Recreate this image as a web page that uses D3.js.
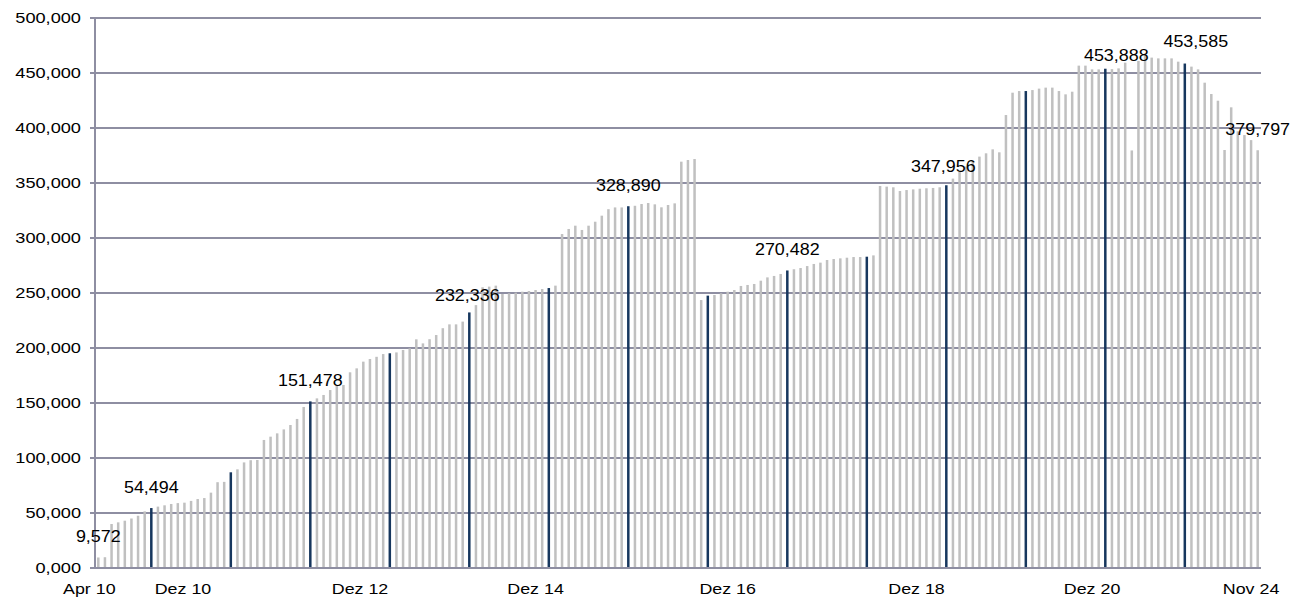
<!DOCTYPE html>
<html>
<head>
<meta charset="utf-8">
<script src="https://cdn.jsdelivr.net/npm/d3@7"></script>
<style>
  html, body { margin: 0; padding: 0; background: #ffffff; }
  svg { display: block; }
  text { font-family: "Liberation Sans", Arial, sans-serif; fill: #000; }
</style>
</head>
<body>
<div id="chart"></div>
<script>
// ---------------- DATA ----------------
const monthNames = ["Jan","Feb","Mär","Apr","Mai","Jun","Jul","Aug","Sep","Okt","Nov","Dez"];
const startMonth = 3;   // April
const startYear = 10;   // 2010
const monthCount = 176; // Apr 10 .. Nov 24

// monthly values in thousands
const values = [
  9.572, 9.8, 40.0, 41.5, 43.0, 45.0, 47.5, 51.5, 54.494, 55.8,
  57.0, 58.2, 59.0, 59.4, 61.0, 62.7, 63.6, 68.5, 78.0, 78.3,
  87.0, 89.7, 96.0, 98.0, 98.2, 116.4, 119.4, 122.4, 126.0, 130.0,
  135.5, 146.4, 151.478, 154.2, 157.3, 161.8, 165.8, 166.4, 177.9, 181.5,
  187.6, 190.0, 192.0, 194.5, 195.2, 196.0, 198.2, 199.7, 207.9, 204.2,
  208.0, 211.8, 218.0, 221.5, 221.5, 224.0, 232.336, 239.0, 255.2, 255.8,
  256.7, 249.1, 249.7, 250.3, 251.2, 251.8, 252.7, 253.6, 254.5, 256.7,
  303.6, 308.2, 311.2, 307.3, 311.2, 314.8, 320.3, 326.2, 327.8, 327.8,
  328.890, 329.3, 330.9, 331.8, 330.6, 327.9, 330.0, 331.5, 369.4, 370.9,
  371.8, 243.6, 247.6, 248.2, 249.7, 251.2, 252.7, 256.4, 257.3, 258.2,
  261.2, 264.2, 265.5, 267.3, 270.482, 271.6, 272.7, 274.5, 276.4, 277.6,
  280.0, 280.9, 281.5, 282.1, 282.7, 282.7, 283.0, 284.2, 347.3, 346.7,
  346.1, 342.7, 343.6, 344.2, 344.8, 345.2, 345.5, 346.1, 347.956, 354.0,
  360.0, 365.0, 370.0, 374.0, 377.0, 380.6, 377.9, 411.8, 432.1, 433.6,
  433.6, 434.5, 435.8, 436.7, 436.7, 433.6, 430.6, 433.0, 456.7, 456.7,
  453.3, 453.3, 453.888, 453.5, 454.2, 459.4, 379.6, 461.0, 465.8, 464.0,
  463.3, 463.3, 463.3, 460.3, 458.6, 455.8, 453.3, 441.2, 430.9, 424.8,
  380.0, 418.8, 397.0, 393.6, 389.0, 379.797
];

// labelled bars and their label values
const labelMonths = ["Apr 10","Dez 10","Dez 12","Dez 14","Dez 16","Dez 18","Dez 20","Dez 22","Dez 23","Nov 24"];
const labelValues = [9572, 54494, 151478, 232336, 328890, 270482, 347956, 453888, 453585, 379797];

// axis tick labels
const yTicks = [0, 50, 100, 150, 200, 250, 300, 350, 400, 450, 500];
const yTickLabels = ["0,000","50,000","100,000","150,000","200,000","250,000","300,000","350,000","400,000","450,000","500,000"];
const xTickLabels = ["Apr 10","Dez 10","Dez 12","Dez 14","Dez 16","Dez 18","Dez 20","Nov 24"];

// categories (month names)
const categories = d3.range(monthCount).map(k => {
  const m = (startMonth + k) % 12;
  const y = startYear + Math.floor((startMonth + k) / 12);
  return monthNames[m] + " " + String(y).padStart(2, "0");
});
const data = categories.map((c, i) => ({ cat: c, value: values[i] }));

// ---------------- LAYOUT ----------------
const W = 1290, H = 598;
const plot = { left: 95, right: 1261, top: 18, bottom: 568 };
const barW = 2.5;
const gridColor = "#8e8ea2";
const grayBar = "#c0c0c0";
const darkBar = "#17375e";

// label placement in month units along the axis (layout of free text)
const xTickPos = [-0.86, 13.28, 40.0, 66.5, 95.5, 124.0, 150.5, 174.5];
// small manual nudges for value labels [dx, dy]
const labelNudge = { "Dez 14": [-2, 4], "Dez 20": [-3, 2], "Dez 22": [11, 7], "Dez 23": [11, -2] };

const svg = d3.select("#chart").append("svg")
  .attr("width", W).attr("height", H)
  .style("background", "#fff");

const step = (plot.right - plot.left) / monthCount;
const pin = 1 - barW / step;
const x = d3.scaleBand()
  .domain(categories)
  .range([plot.left, plot.right])
  .paddingInner(pin)
  .paddingOuter(pin / 2);
const xl = d3.scaleLinear().domain([0, monthCount]).range([plot.left, plot.right]);
const y = d3.scaleLinear().domain([0, 500]).range([plot.bottom, plot.top]);

function stretchedText(sel, px, py, txt, size, sx, anchor) {
  return sel.append("text")
    .attr("transform", `translate(${px},${py}) scale(${sx},1)`)
    .attr("text-anchor", anchor)
    .style("font-size", size + "px")
    .text(txt);
}

// gridlines
const grid = svg.append("g");
grid.selectAll("line").data(yTicks).join("line")
  .attr("x1", plot.left - 5).attr("x2", plot.right)
  .attr("y1", d => y(d)).attr("y2", d => y(d))
  .attr("stroke", gridColor).attr("stroke-width", 2);

// y axis line
svg.append("line")
  .attr("x1", plot.left).attr("x2", plot.left)
  .attr("y1", y(500) - 1).attr("y2", y(0) + 1)
  .attr("stroke", gridColor).attr("stroke-width", 2);

// bars
svg.append("g").selectAll("rect").data(data).join("rect")
  .attr("x", d => x(d.cat))
  .attr("width", x.bandwidth())
  .attr("y", d => y(d.value))
  .attr("height", d => y(0) - 1 - y(d.value))
  .attr("fill", d => d.cat.startsWith("Dez") ? darkBar : grayBar);

// y tick labels
const yl = svg.append("g");
yTicks.forEach((t, i) => {
  stretchedText(yl, 81, y(t) + 5, yTickLabels[i], 14, 1.3, "end");
});

// x tick labels
const xlab = svg.append("g");
xTickLabels.forEach((t, i) => {
  stretchedText(xlab, xl(xTickPos[i]), 594, t, 15, 1.19, "middle");
});

// value labels
const vl = svg.append("g");
const fmt = d3.format(",");
labelMonths.forEach((m, i) => {
  const d = data[categories.indexOf(m)];
  const n = labelNudge[m] || [0, 0];
  const cx = x(d.cat) + x.bandwidth() / 2 + n[0];
  const by = y(d.value) - 15 + n[1];
  stretchedText(vl, cx, by, fmt(labelValues[i]), 16, 1.12, "middle");
});
</script>
</body>
</html>
